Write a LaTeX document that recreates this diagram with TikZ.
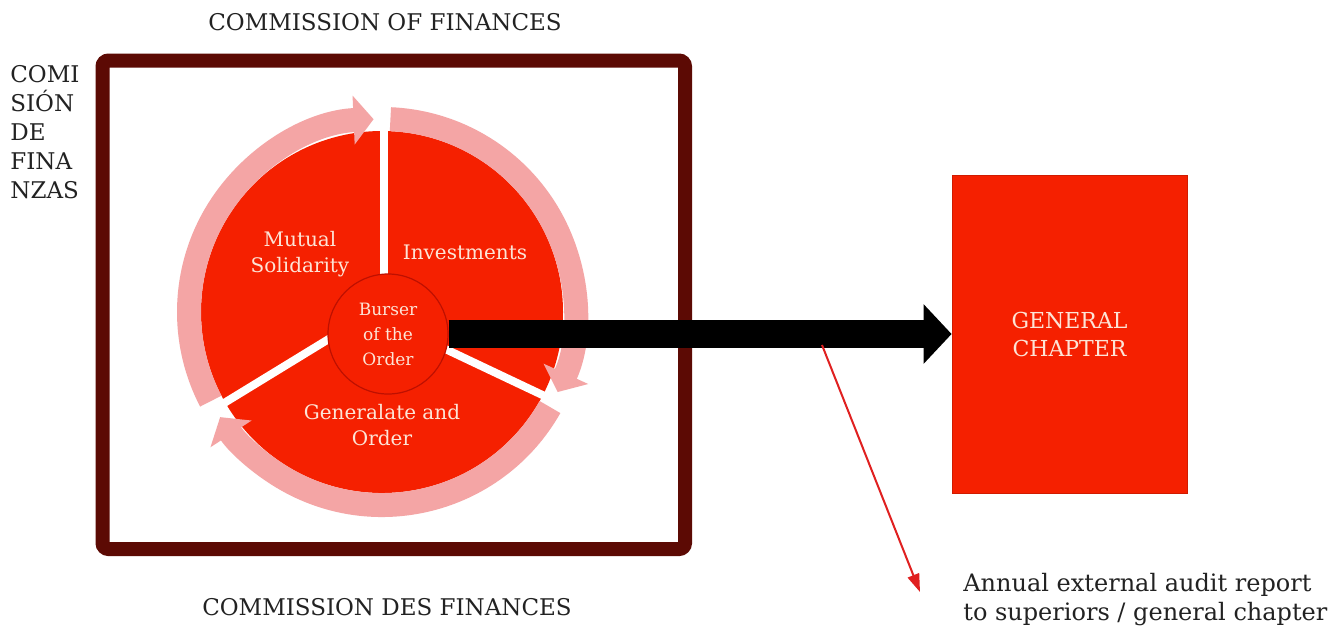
\documentclass[tikz,border=0pt]{standalone}
\usepackage{fontspec}
\setmainfont{DejaVu Serif}
\usetikzlibrary{arrows.meta}
\definecolor{pie}{RGB}{245,32,0}
\definecolor{ring}{RGB}{244,165,165}
\definecolor{frame}{RGB}{92,10,4}
\definecolor{ltext}{RGB}{253,228,214}
\definecolor{auditred}{RGB}{224,32,32}
\definecolor{ink}{RGB}{34,34,34}
\definecolor{burserline}{RGB}{190,16,0}
\tikzset{
  lbl/.style={font=\fontsize{10}{13}\selectfont, text=ltext, align=center, inner sep=0pt},
  titletext/.style={font=\fontsize{11.5}{14}\selectfont, text=ink, inner sep=0pt},
  pinkarc/.style={ring, line width=12pt, -{Triangle[width=24pt,length=10pt]}},
  spoke/.style={white, line width=4pt},
}
\begin{document}
\begin{tikzpicture}[x=0.5pt,y=-0.5pt]
\useasboundingbox (0,0) rectangle (1338,628);
\fill[white] (0,0) rectangle (1338,628);
% frame
\draw[frame, line width=7pt, rounded corners=3pt] (102.5,60.5) rectangle (685,549);
% titles
\node[titletext] (t1) at (385,22) {COMMISSION OF FINANCES};
\node[titletext] (t2) at (387,607) {COMMISSION DES FINANCES};
\node[titletext, anchor=north west, align=left, font=\fontsize{11.5}{14.5}\selectfont] (t3) at (10,65) {COMI\\SIÓN\\DE\\FINA\\NZAS};
% pie
\fill[pie] (382,312) circle[radius=181];
\draw[pinkarc] (382,312) ++(-207.5:193) arc[start angle=-207.5, end angle=-92.5, radius=193];
\draw[pinkarc] (382,312) ++(-87.5:193) arc[start angle=-87.5, end angle=24.5, radius=193];
\draw[pinkarc] (382,312) ++(29.5:193) arc[start angle=29.5, end angle=147, radius=193];
% spokes
\draw[spoke] (384,300) -- (384,92);
\draw[spoke] (420,337) -- (572,409);
\draw[spoke] (350,326) -- (198,419);
% labels
\node[lbl] (ms) at (300,254) {Mutual\\Solidarity};
\node[lbl] (inv) at (465,252) {Investments};
\node[lbl] (gen) at (382,425) {Generalate and\\Order};
\node[circle, draw=burserline, line width=0.6pt, fill=pie, minimum size=60pt, inner sep=0pt,
      font=\fontsize{8.5}{12.5}\selectfont, text=ltext, align=center] (burser) at (388,334) {Burser\\of the\\Order};
% general chapter
\node[rectangle, fill=pie, draw=pie!85!black, line width=0.4pt, minimum width=117.5pt, minimum height=159pt,
      text=ltext, align=center, font=\fontsize{11}{14}\selectfont] (gc) at (1069.5,334) {GENERAL\\CHAPTER};
% black arrow
\draw[black, line width=14pt, -{Triangle[width=29pt,length=14pt]}] (burser.east) -- (burser.east -| gc.west);
% audit arrow
\coordinate (tap) at (822,345);
\coordinate (atip) at (920,592);
\draw[auditred, line width=1pt, -{Triangle[width=6pt,length=9pt]}] (tap) -- (atip);
\node[anchor=north west, align=left, font=\fontsize{12}{14.5}\selectfont, text=ink, inner sep=0pt] (audit) at (963,573) {Annual external audit report\\to superiors / general chapter};
\end{tikzpicture}
\end{document}
